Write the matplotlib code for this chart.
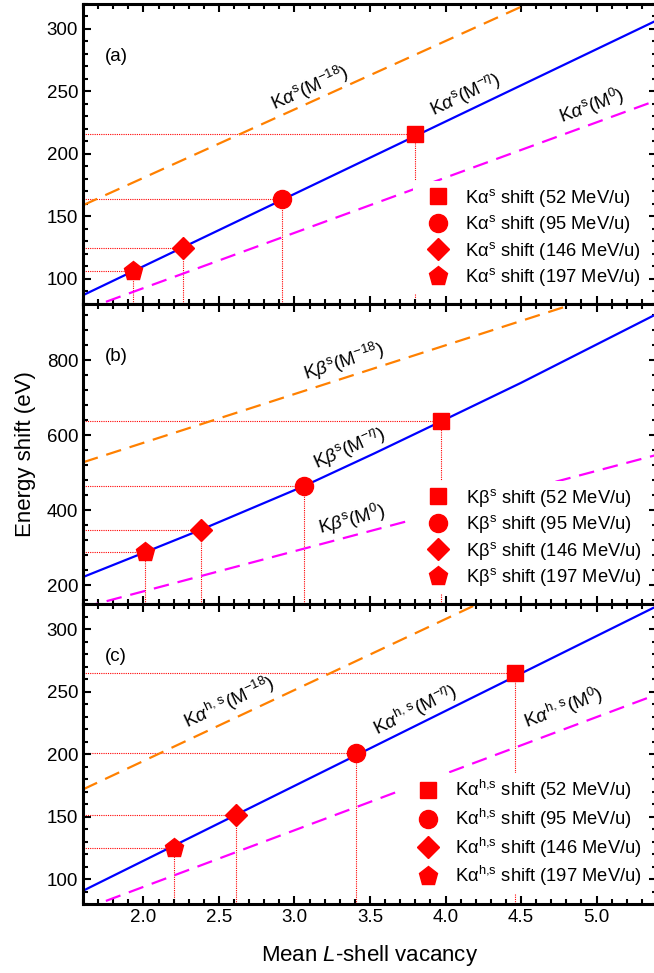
import numpy as np
import matplotlib
matplotlib.use("Agg")
import matplotlib.pyplot as plt
from matplotlib.ticker import MultipleLocator

plt.rcParams['font.family'] = ['Liberation Sans', 'DejaVu Sans']
plt.rcParams['mathtext.fontset'] = 'custom'
plt.rcParams['mathtext.rm'] = 'Liberation Sans'
plt.rcParams['mathtext.it'] = 'Liberation Sans:italic'
plt.rcParams['mathtext.bf'] = 'Liberation Sans:bold'

# --- data ---
energies = [52, 95, 146, 197]
markers = ['s', 'o', 'D', 'p']
msizes = [12, 13, 11, 14]

x_ends = [1.6, 5.4]

# (a) K alpha satellite
a_mn = [87, 307]
a_m18 = [159, 367]
a_m0 = [75, 243]
a_x = [3.80, 2.92, 2.26, 1.93]
a_y = [216, 164, 125, 106]

# (b) K beta satellite
b_mn_x = [1.6, 2.01, 2.38, 3.06, 3.53, 3.97, 4.5, 5.4]
b_mn = [222, 288, 348, 464, 552, 637, 740, 924]
b_m18 = [528, 1022]
b_m0 = [141, 548]
b_x = [3.97, 3.06, 2.38, 2.01]
b_y = [637, 464, 348, 288]

# (c) K alpha hypersatellite
c_mn = [90.6, 318.4]
c_m18 = [171.7, 387.5]
c_m0 = [75.6, 247.7]
c_x = [4.46, 3.41, 2.61, 2.20]
c_y = [265, 201, 151, 125]

fig = plt.figure(figsize=(6.54, 9.73), dpi=100)
L, W, H = 0.1269, 0.8777, 0.3083
ax_a = fig.add_axes([L, 0.6876, W, H])
ax_b = fig.add_axes([L, 0.3792, W, H])
ax_c = fig.add_axes([L, 0.0709, W, H])

panels = [
    (ax_a, x_ends, a_mn, a_m18, a_m0, a_x, a_y, (80, 320), 50, 10, '(a)',
     'Kα$^{\\mathrm{s}}$'),
    (ax_b, b_mn_x, b_mn, b_m18, b_m0, b_x, b_y, (150, 950), 200, 40, '(b)',
     'Kβ$^{\\mathrm{s}}$'),
    (ax_c, x_ends, c_mn, c_m18, c_m0, c_x, c_y, (80, 320), 50, 10, '(c)',
     'Kα$^{\\mathrm{h{,}s}}$'),
]

for ax, mn_x, mn, m18, m0, px, py, ylim, maj, mnr, tag, leglab in panels:
    ax.plot(x_ends, m18, color='#FF8000', lw=1.6, ls=(0, (7, 4)), zorder=2)
    ax.plot(x_ends, m0, color='#FF00FF', lw=1.6, ls=(0, (7, 4)), zorder=2)
    ax.plot(mn_x, mn, color='#0000FF', lw=1.6, zorder=2)
    for x, y in zip(px, py):
        ax.plot([x_ends[0], x], [y, y], color='red', lw=0.8, ls=(0, (1, 1)), zorder=1)
        ax.plot([x, x], [ylim[0], y], color='red', lw=0.8, ls=(0, (1, 1)), zorder=1)
    for x, y, m, ms, e in zip(px, py, markers, msizes, energies):
        ax.plot(x, y, marker=m, ms=ms, color='red', ls='none', zorder=4,
                label=f'{leglab} shift ({e} MeV/u)')
    ax.set_xlim(1.6, 5.4)
    ax.set_ylim(*ylim)
    ax.xaxis.set_major_locator(MultipleLocator(0.5))
    ax.xaxis.set_minor_locator(MultipleLocator(0.1))
    ax.yaxis.set_major_locator(MultipleLocator(maj))
    ax.yaxis.set_minor_locator(MultipleLocator(mnr))
    ax.tick_params(which='both', direction='in', top=True, right=True, width=1.5)
    ax.tick_params(which='major', length=6, labelsize=13.5)
    ax.tick_params(which='minor', length=3.5)
    for s in ax.spines.values():
        s.set_linewidth(2.2)
    ax.text(0.058, 0.825, tag, transform=ax.transAxes, fontsize=13.5, ha='center', va='center')
    leg = ax.legend(loc='lower right', fontsize=13.2, frameon=True, framealpha=1,
                    edgecolor='none', facecolor='white', handletextpad=0.375,
                    borderaxespad=0.55, labelspacing=0.25, handlelength=2.2,
                    borderpad=0.3, fancybox=False)
    leg.set_zorder(3)

for ax in (ax_a, ax_b):
    ax.tick_params(labelbottom=False)

# line labels (x, y, rotation)
ax_a.text(3.10, 253, r'K$\alpha^{\mathrm{s}}$(M$^{-18}$)', rotation=24, fontsize=13.5, ha='center', va='center')
ax_a.text(4.13, 247, r'K$\alpha^{\mathrm{s}}$(M$^{-\eta}$)', rotation=25.5, fontsize=13.5, ha='center', va='center')
ax_a.text(4.97, 238, r'K$\alpha^{\mathrm{s}}$(M$^{0}$)', rotation=20, fontsize=13.5, ha='center', va='center')

ax_b.text(3.33, 797, r'K$\beta^{\mathrm{s}}$(M$^{-18}$)', rotation=18, fontsize=13.5, ha='center', va='center')
ax_b.text(3.36, 566, r'K$\beta^{\mathrm{s}}$(M$^{-\eta}$)', rotation=24, fontsize=13.5, ha='center', va='center')
ax_b.text(3.38, 375, r'K$\beta^{\mathrm{s}}$(M$^{0}$)', rotation=15, fontsize=13.5, ha='center', va='center')

ax_c.text(2.57, 241, r'K$\alpha^{\mathrm{h,\,s}}$(M$^{-18}$)', rotation=25, fontsize=13.5, ha='center', va='center')
ax_c.text(3.80, 235, r'K$\alpha^{\mathrm{h,\,s}}$(M$^{-\eta}$)', rotation=26.4, fontsize=13.5, ha='center', va='center')
ax_c.text(4.78, 237, r'K$\alpha^{\mathrm{h,\,s}}$(M$^{0}$)', rotation=20.6, fontsize=13.5, ha='center', va='center')

ax_c.set_xlabel(r'Mean $\mathit{L}$-shell vacancy', fontsize=16, labelpad=12)
ax_b.set_ylabel('Energy shift (eV)', fontsize=16, labelpad=8)

fig.savefig('out.png', dpi=100)
